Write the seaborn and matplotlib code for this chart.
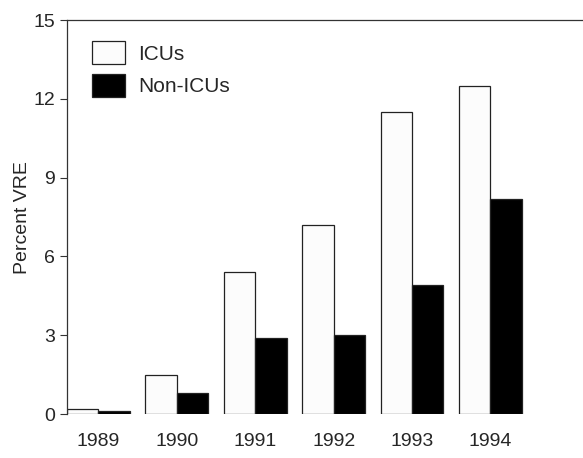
import pandas as pd
import numpy as np
import seaborn as sns
import matplotlib.pyplot as plt

years = ['1989', '1990', '1991', '1992', '1993', '1994']
icu = [0.2, 1.5, 5.4, 7.2, 11.5, 12.5]
non_icu = [0.1, 0.8, 2.9, 3.0, 4.9, 8.2]

df = pd.DataFrame({
    'Year': years * 2,
    'Percent': icu + non_icu,
    'Group': ['ICUs'] * len(years) + ['Non-ICUs'] * len(years),
})

sns.set_style('white')
plt.rcParams['font.family'] = ['Liberation Sans', 'DejaVu Sans']

fig = plt.figure(figsize=(5.83, 4.58), dpi=100)
ax = fig.add_axes([0.115, 0.096, 0.885, 0.86])

sns.barplot(data=df, x='Year', y='Percent', hue='Group',
            palette={'ICUs': '#fcfcfc', 'Non-ICUs': 'black'},
            edgecolor='#222222', linewidth=0.9, width=0.8,
            errorbar=None, ax=ax)

ax.set_ylim(0, 15)
ax.set_xlim(-0.4, 6.18)
ax.set_yticks([0, 3, 6, 9, 12, 15])
ax.set_xlabel('')
ax.set_ylabel('Percent VRE', fontsize=14, labelpad=2)
ax.tick_params(axis='y', labelsize=14, length=5, width=0.8, color='#333333', left=True)
ax.tick_params(axis='x', labelsize=14, length=0, pad=14)

for s in ['right', 'bottom']:
    ax.spines[s].set_visible(False)
for s in ['left', 'top']:
    ax.spines[s].set_color('#333333')
    ax.spines[s].set_linewidth(0.9)

handles, labels = ax.get_legend_handles_labels()
ax.legend(handles, labels, loc='upper left', frameon=False, fontsize=15,
          handlelength=1.6, handleheight=1.35, handletextpad=0.6,
          labelspacing=0.45, bbox_to_anchor=(0.012, 0.995))

fig.savefig('out.png', dpi=100)
